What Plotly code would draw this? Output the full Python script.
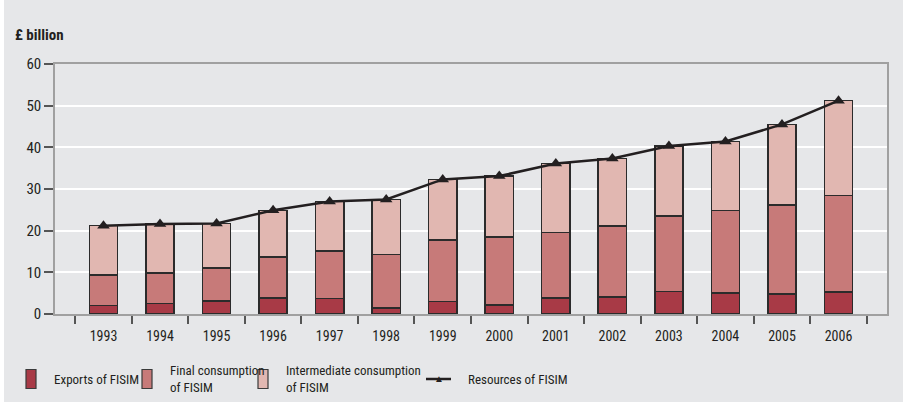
import plotly.graph_objects as go

years = ["1993", "1994", "1995", "1996", "1997", "1998", "1999",
         "2000", "2001", "2002", "2003", "2004", "2005", "2006"]
exports = [2.1, 2.5, 3.1, 3.9, 3.7, 1.4, 3.0, 2.2, 3.8, 4.1, 5.4, 5.0, 4.8, 5.3]
final_cons = [7.3, 7.3, 7.9, 9.8, 11.4, 12.9, 14.8, 16.3, 15.8, 17.0, 18.1, 19.8, 21.4, 23.2]
intermediate = [11.8, 11.8, 10.7, 11.2, 11.9, 13.2, 14.5, 14.6, 16.5, 16.2, 16.8, 16.6, 19.3, 22.7]
resources = [21.2, 21.6, 21.7, 24.9, 27.0, 27.5, 32.3, 33.1, 36.1, 37.3, 40.3, 41.4, 45.5, 51.2]

C_EXP = "#a83a46"
C_FIN = "#c77a79"
C_INT = "#e1b7b1"
C_LINE = "#231f20"
BG = "#e6e7e9"
FONT = "Roboto Condensed, Liberation Sans Narrow, sans-serif"

W, H = 903, 407
L, R, T, B = 55, 16, 64, 93
PW, PH = W - L - R, H - T - B


def px(x):
    return (x - L) / PW


def py(y):
    return (H - B - y) / PH


fig = go.Figure()
bar_line = dict(color="#2b2b2b", width=1.5)
fig.add_trace(go.Bar(x=years, y=exports, name="Exports of FISIM",
                     marker=dict(color=C_EXP, line=bar_line)))
fig.add_trace(go.Bar(x=years, y=final_cons, name="Final consumption of FISIM",
                     marker=dict(color=C_FIN, line=bar_line)))
fig.add_trace(go.Bar(x=years, y=intermediate, name="Intermediate consumption of FISIM",
                     marker=dict(color=C_INT, line=bar_line)))
fig.add_trace(go.Scatter(x=years, y=resources, name="Resources of FISIM",
                         mode="lines+markers",
                         line=dict(color=C_LINE, width=2.5),
                         marker=dict(symbol="triangle-up", size=11, color=C_LINE)))

shapes = [
    # white strips around the grey panel
    dict(type="rect", xref="paper", yref="paper", x0=px(0), x1=px(4), y0=py(H), y1=py(0),
         fillcolor="white", line=dict(width=0), layer="above"),
    dict(type="rect", xref="paper", yref="paper", x0=px(0), x1=px(W), y0=py(H), y1=py(402),
         fillcolor="white", line=dict(width=0), layer="above"),
]
annotations = [
    dict(text="<b>£ billion</b>", xref="paper", yref="paper", x=px(13), y=py(35),
         xanchor="left", yanchor="middle", showarrow=False,
         font=dict(size=15, color=C_LINE, family=FONT)),
]

# custom legend
leg_y = 379
for x0, col in [(26, C_EXP), (142, C_FIN), (258, C_INT)]:
    shapes.append(dict(type="rect", xref="paper", yref="paper",
                       x0=px(x0), x1=px(x0 + 10), y0=py(leg_y + 9.5), y1=py(leg_y - 9.5),
                       fillcolor=col, line=dict(color="#3a3a3a", width=1.2)))
line_x = 426
shapes.append(dict(type="line", xref="paper", yref="paper",
                   x0=px(line_x), x1=px(line_x + 25), y0=py(leg_y), y1=py(leg_y),
                   line=dict(color=C_LINE, width=2.5)))
for x0, txt in [(52, "Exports of FISIM"), (168, "Final consumption<br>of FISIM"),
                (284, "Intermediate consumption<br>of FISIM"), (line_x + 40, "Resources of FISIM")]:
    annotations.append(dict(text=txt, xref="paper", yref="paper", x=px(x0), y=py(leg_y),
                            xanchor="left", yanchor="middle", align="left", showarrow=False,
                            font=dict(size=13, color=C_LINE, family=FONT)))
annotations.append(dict(text="▲", xref="paper", yref="paper", x=px(line_x + 12.5), y=py(leg_y - 1),
                        xanchor="center", yanchor="middle", showarrow=False,
                        font=dict(size=10, color=C_LINE)))

fig.update_layout(
    width=W, height=H,
    margin=dict(l=L, r=R, t=T, b=B, pad=0),
    barmode="stack", bargap=0.5,
    paper_bgcolor=BG, plot_bgcolor=BG,
    showlegend=False,
    font=dict(family=FONT, size=14, color=C_LINE),
    shapes=shapes, annotations=annotations,
)
fig.update_xaxes(
    type="category", tickson="boundaries", ticks="outside", ticklen=8, tickwidth=1.5,
    tickcolor="#555555", showline=True, linecolor="#a0a0a0", linewidth=1.5, mirror=True,
    showgrid=False, tickfont=dict(size=14, family=FONT, color=C_LINE),
    ticklabelstandoff=8,
)
fig.update_yaxes(
    range=[0, 60], dtick=10, ticks="outside", ticklen=9, tickwidth=1.5, tickcolor="#555555",
    showline=True, linecolor="#a0a0a0", linewidth=1.5, mirror=True,
    showgrid=True, gridcolor="white", gridwidth=1.5, zeroline=False,
    tickfont=dict(size=15, family=FONT, color=C_LINE),
)

fig.write_html("out.html", config={"displayModeBar": False},
               post_script="document.body.style.margin='0';")
